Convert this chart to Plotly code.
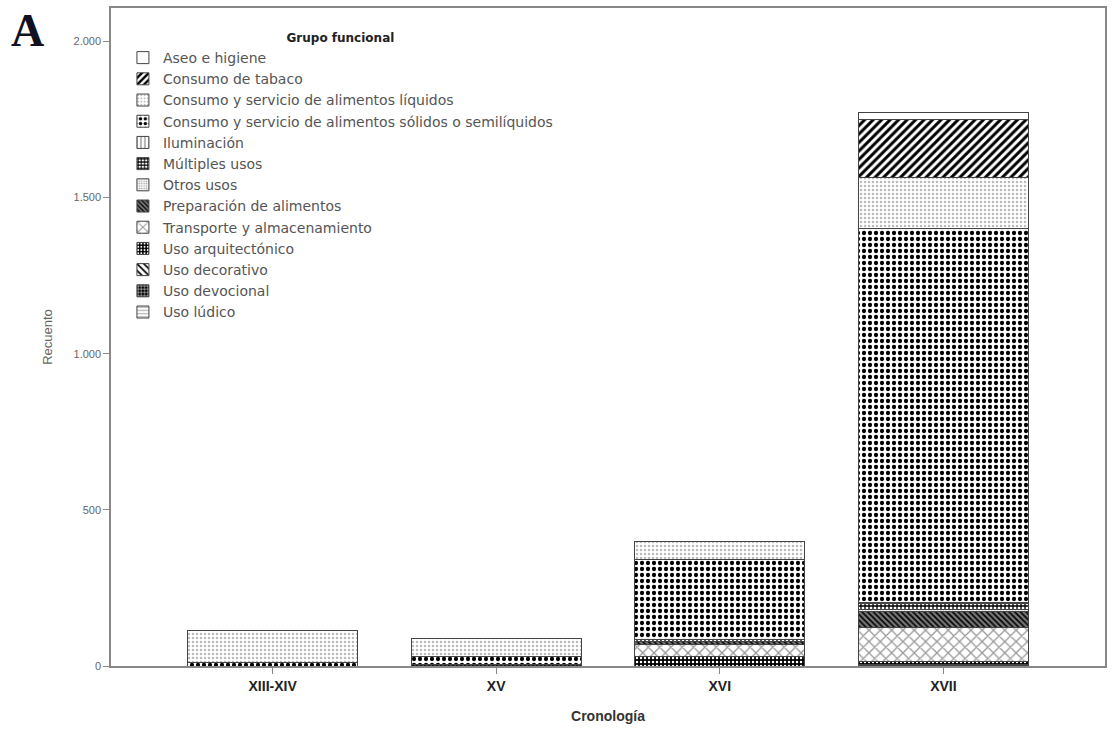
import plotly.graph_objects as go

categories = ["XIII-XIV", "XV", "XVI", "XVII"]

groups = [
    "Aseo e higiene",
    "Consumo de tabaco",
    "Consumo y servicio de alimentos líquidos",
    "Consumo y servicio de alimentos sólidos o semilíquidos",
    "Iluminación",
    "Múltiples usos",
    "Otros usos",
    "Preparación de alimentos",
    "Transporte y almacenamiento",
    "Uso arquitectónico",
    "Uso decorativo",
    "Uso devocional",
    "Uso lúdico",
]

aseo = [0, 0, 2, 20]
tabaco = [0, 0, 0, 186]
liquidos = [101, 57, 57, 163]
solidos = [12, 25, 256, 1198]
iluminacion = [0, 0, 0, 3]
multiples = [0, 5, 6, 20]
otros = [0, 0, 2, 5]
preparacion = [0, 0, 8, 54]
transporte = [0, 0, 39, 107]
arquitectonico = [0, 0, 30, 10]
decorativo = [0, 0, 0, 2]
devocional = [0, 0, 0, 2]
ludico = [0, 0, 0, 1]

values = [aseo, tabaco, liquidos, solidos, iluminacion, multiples, otros,
          preparacion, transporte, arquitectonico, decorativo, devocional, ludico]

# pattern styles: (shape, fgcolor, bgcolor, size, solidity)
styles = [
    ("", "black", "white", 8, 0.3),
    ("/", "black", "white", 6, 0.5),
    (".", "#bbbbbb", "white", 4, 0.3),
    (".", "black", "white", 6, 0.4),
    ("|", "#888888", "white", 5, 0.3),
    ("+", "black", "white", 4, 0.55),
    (".", "#aaaaaa", "white", 3, 0.4),
    ("\\", "black", "#777777", 4, 0.4),
    ("x", "#999999", "white", 8, 0.3),
    (".", "white", "black", 4, 0.3),
    ("\\", "black", "white", 6, 0.35),
    ("+", "white", "black", 4, 0.3),
    ("-", "#999999", "white", 4, 0.3),
]

fig = go.Figure()
for name, vals, st in reversed(list(zip(groups, values, styles))):
    shape, fg, bg, size, sol = st
    fig.add_trace(go.Bar(
        name=name, x=categories, y=vals, width=0.76,
        marker=dict(color=bg, line=dict(color="#444444", width=1),
                    pattern=dict(shape=shape, fgcolor=fg, bgcolor=bg,
                                 size=size, solidity=sol, fillmode="replace")),
    ))

fig.update_layout(
    width=1113, height=742,
    barmode="stack",
    plot_bgcolor="white", paper_bgcolor="white",
    separators=",.",
    margin=dict(l=111, r=6, t=8, b=76),
    font=dict(family="Liberation Sans, Arial, sans-serif", color="#555555"),
    legend=dict(
        traceorder="reversed",
        x=0.012, y=0.972, xanchor="left", yanchor="top",
        bgcolor="rgba(0,0,0,0)",
        font=dict(size=14, color="#555555", family="DejaVu Sans, sans-serif"),
        title=dict(text="<b>Grupo funcional</b>", side="top center",
                   font=dict(size=12, color="#222222", family="DejaVu Sans, sans-serif")),
        tracegroupgap=0, itemwidth=30,
    ),
    xaxis=dict(
        type="category", range=[-0.723, 3.723],
        showline=True, linecolor="#888888", linewidth=1.5, mirror=True,
        ticks="outside", ticklen=6, tickcolor="#888888",
        tickfont=dict(size=14, color="#222222", family="Liberation Sans, Arial, sans-serif", weight="bold"),
        title=dict(text="<b>Cronología</b>", font=dict(size=14, color="#333333"), standoff=19),
    ),
    yaxis=dict(
        range=[0, 2107], tickvals=[0, 500, 1000, 1500, 2000], tickformat=",d",
        showline=True, linecolor="#888888", linewidth=1.5, mirror=True,
        showgrid=False, zeroline=False,
        ticks="outside", ticklen=6, tickcolor="#888888",
        tickfont=dict(size=11, color="#666666"),
        title=dict(text="Recuento", font=dict(size=13, color="#666666"), standoff=18),
    ),
    annotations=[dict(
        text="<b>A</b>", xref="paper", yref="paper", x=-0.1, y=1.0,
        xanchor="left", yanchor="top", showarrow=False,
        font=dict(size=46, color="#111122", family="Liberation Serif, DejaVu Serif, serif"),
        xshift=-3, yshift=5,
    )],
)

fig.write_html(
    "out.html",
    config={"displayModeBar": False},
    post_script="document.body.style.margin='0px';document.body.style.overflow='hidden';",
)
